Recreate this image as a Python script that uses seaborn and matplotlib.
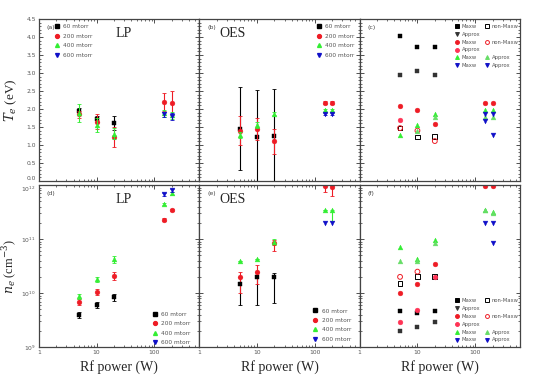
import numpy as np
import matplotlib
matplotlib.use("Agg")
import matplotlib.pyplot as plt
from matplotlib.lines import Line2D
from matplotlib.ticker import FixedLocator, LogLocator, MultipleLocator
import seaborn as sns

nan = np.nan

# Rf power (W)
power = [5, 10, 20, 150, 200]

# (a) Te from Langmuir probe (eV)
te_lp_60 = [1.95, 1.72, 1.61, nan, nan]
te_lp_60_err = [0.08, 0.08, 0.2, 0, 0]
te_lp_200 = [1.85, 1.65, 1.22, 2.2, 2.17]
te_lp_200_err = [0.1, 0.2, 0.28, 0.25, 0.33]
te_lp_400 = [1.9, 1.55, 1.31, 1.88, 1.82]
te_lp_400_err = [0.25, 0.2, 0.15, 0.1, 0.1]
te_lp_600 = [nan, nan, nan, 1.85, 1.8]
te_lp_600_err = [0, 0, 0, 0.08, 0.1]

# (b) Te from OES (eV)
te_oes_60 = [1.45, 1.22, 1.25, nan, nan]
te_oes_60_err = [1.15, 1.3, 1.3, 0, 0]
te_oes_200 = [1.4, 1.44, 1.1, 2.18, 2.18]
te_oes_200_err = [0.4, 0.3, 0.35, 0.04, 0.04]
te_oes_400 = [1.28, 1.56, 1.87, 1.96, 1.96]
te_oes_400_err = [0.08, 0.08, 0.05, 0.04, 0.04]
te_oes_600 = [nan, nan, nan, 1.87, 1.87]
te_oes_600_err = [0, 0, 0, 0.03, 0.03]

# (c) Te, Maxwellian / non-Maxwellian / approximation
te_60_maxw = [4.02, 3.72, 3.72, nan, nan]
te_60_nonmaxw = [1.47, 1.22, 1.24, nan, nan]
te_60_approx = [2.94, 3.05, 2.94, nan, nan]
te_200_maxw = [2.07, 1.98, 1.57, 2.18, 2.18]
te_200_nonmaxw = [1.47, 1.4, 1.11, nan, nan]
te_200_approx = [1.69, nan, nan, nan, nan]
te_400_maxw = [1.29, 1.56, 1.87, 1.96, 1.96]
te_400_approx = [nan, 1.4, 1.78, 1.78, 1.78]
te_600_maxw = [nan, nan, nan, 1.87, 1.87]
te_600_approx = [nan, nan, nan, 1.67, 1.29]

# (d) ne from Langmuir probe (cm^-3)
ne_lp_60 = [4e9, 6e9, 8.5e9, nan, nan]
ne_lp_200 = [7e9, 1.05e10, 2.1e10, 2.3e11, 3.5e11]
ne_lp_400 = [8.7e9, 1.8e10, 4.2e10, 4.5e11, 7e11]
ne_lp_600 = [nan, nan, nan, 6.7e11, 8e11]
ne_lp_rel_err = [0.12, 0.12, 0.15, 0.05, 0.05]

# (e) ne from OES (cm^-3), asymmetric errors
ne_oes_60 = [1.5e10, 2e10, 2e10, nan, nan]
ne_oes_60_lo = [9e9, 1.4e10, 1.35e10, 0, 0]
ne_oes_60_hi = [5e9, 5e9, 4e9, 0, 0]
ne_oes_200 = [2e10, 2.5e10, 8.6e10, 9.8e11, 9.3e11]
ne_oes_200_lo = [1e10, 1e10, 2.5e10, 2.5e11, 3e11]
ne_oes_200_hi = [5e9, 8e9, 1e10, 5e10, 5e10]
ne_oes_400 = [3.9e10, 4.3e10, 8.9e10, 3.4e11, 3.4e11]
ne_oes_400_lo = [0, 0, 1e10, 0, 1.2e11]
ne_oes_400_hi = [0, 0, 1e10, 0, 0]
ne_oes_600 = [nan, nan, nan, 2e11, 2e11]

# (f) ne, Maxwellian / non-Maxwellian / approximation
ne_60_maxw = [4.7e9, 4.3e9, 4.7e9, nan, nan]
ne_60_nonmaxw = [1.5e10, 2e10, 2e10, nan, nan]
ne_60_approx = [2e9, 2.4e9, 2.9e9, nan, nan]
ne_200_maxw = [1e10, 1.5e10, 3.4e10, 9.8e11, 9.5e11]
ne_200_nonmaxw = [2e10, 2.5e10, nan, nan, nan]
ne_200_approx = [2.9e9, 4.8e9, 2e10, nan, nan]
ne_400_maxw = [7e10, 4.3e10, 9.8e10, 3.4e11, 3.2e11]
ne_400_approx = [3.9e10, 3.9e10, 8.6e10, 3.4e11, 3e11]
ne_600_maxw = [nan, nan, nan, 2e11, 2e11]
ne_600_approx = [nan, nan, nan, nan, 8.4e10]

pressure_labels = ["60 mtorr", "200 mtorr", "400 mtorr", "600 mtorr"]
BLACK, RED, GREEN, BLUE = "#000000", "#ee1c25", "#33ee33", "#1010c8"
COLORS = [BLACK, RED, GREEN, BLUE]
MARKERS = ["s", "o", "^", "v"]

sns.set_style("ticks")
plt.rcParams["font.family"] = ["DejaVu Sans"]
plt.rcParams["mathtext.fontset"] = "dejavuserif"

fig, axes = plt.subplots(2, 3, figsize=(5.39, 3.79), dpi=100)
fig.subplots_adjust(left=0.072, right=0.965, top=0.95, bottom=0.084,
                    wspace=0.0, hspace=0.025)


def points(ax, y, color, marker, open_=False, size=12):
    if open_:
        sns.scatterplot(x=power, y=y, ax=ax, marker=marker, s=size,
                        facecolor="none", edgecolor=color, linewidth=0.7)
    else:
        sns.scatterplot(x=power, y=y, ax=ax, marker=marker, s=size,
                        color=color, edgecolor=color, linewidth=0.3)


def errs(ax, y, err, color):
    ax.errorbar(power, y, yerr=err, fmt="none", ecolor=color,
                elinewidth=0.8, capsize=1.2, capthick=0.6, zorder=1)


def style_axis(ax, log_y):
    ax.set_xscale("log")
    ax.set_xlim(1, 600)
    if log_y:
        ax.set_yscale("log")
        ax.set_ylim(1e9, 1e12)
        ax.yaxis.set_major_locator(LogLocator(base=10, numticks=10))
        ax.yaxis.set_minor_locator(LogLocator(base=10, subs=np.arange(2, 10) * 1.0, numticks=10))
    else:
        ax.set_ylim(0, 4.5)
        ax.yaxis.set_major_locator(MultipleLocator(0.5))
        ax.yaxis.set_minor_locator(MultipleLocator(0.1))
        ax.yaxis.set_major_formatter(plt.FormatStrFormatter("%.1f"))
    ax.xaxis.set_major_locator(FixedLocator([1, 10, 100, 1000]))
    ax.xaxis.set_major_formatter(plt.FuncFormatter(lambda v, p: f"{v:g}"))
    ax.xaxis.set_minor_locator(LogLocator(base=10, subs=np.arange(2, 10) * 1.0, numticks=10))
    ax.tick_params(which="both", direction="in", top=True, right=True,
                   labelsize=4.3, labelcolor="#555555", color="#333333", pad=2)
    ax.tick_params(which="major", length=3, width=0.6)
    ax.tick_params(which="minor", length=1.6, width=0.5)
    for sp in ax.spines.values():
        sp.set_linewidth(0.9)
        sp.set_color("#444444")


def pressure_legend(ax, **kw):
    handles = [Line2D([], [], ls="none", marker=m, color=c, markersize=2.8)
               for m, c in zip(MARKERS, COLORS)]
    ax.legend(handles, pressure_labels, frameon=False, fontsize=4.2,
              labelcolor="#555555", handletextpad=0.6, labelspacing=0.75,
              handlelength=1.0, **kw)


def model_legend(ax, **kw):
    def h(m, c, open_=False):
        return Line2D([], [], ls="none", marker=m, color=c, markersize=2.8,
                      markerfacecolor="none" if open_ else c, markeredgewidth=0.7)
    blank = Line2D([], [], ls="none")
    handles = [h("s", BLACK), h("v", "#333333"), h("o", RED), h("o", "#ff3355"),
               h("^", GREEN), h("v", BLUE),
               h("s", BLACK, True), blank, h("o", RED, True), blank,
               h("^", "#66dd66"), h("v", BLUE)]
    labels = ["Maxw", "Approx", "Maxw", "Approx", "Maxw", "Maxw",
              "non-Maxw", "", "non-Maxw", "", "Approx", "Approx"]
    ax.legend(handles, labels, ncol=2, frameon=False, fontsize=3.8,
              labelcolor="#555555", handletextpad=0.4, labelspacing=0.55,
              handlelength=1.0, columnspacing=0.8, **kw)


# ---- (a) LP Te
ax = axes[0, 0]
for y, e, c, m in zip([te_lp_60, te_lp_200, te_lp_400, te_lp_600],
                      [te_lp_60_err, te_lp_200_err, te_lp_400_err, te_lp_600_err],
                      COLORS, MARKERS):
    errs(ax, y, e, c)
    points(ax, y, c, m)
pressure_legend(ax, loc="upper left", bbox_to_anchor=(0.06, 1.0))

# ---- (b) OES Te
ax = axes[0, 1]
for y, e, c, m in zip([te_oes_60, te_oes_200, te_oes_400, te_oes_600],
                      [te_oes_60_err, te_oes_200_err, te_oes_400_err, te_oes_600_err],
                      COLORS, MARKERS):
    errs(ax, y, e, c)
    points(ax, y, c, m)
pressure_legend(ax, loc="upper right", bbox_to_anchor=(1.0, 1.0))

# ---- (c) Te by EEDF model
ax = axes[0, 2]
points(ax, te_60_maxw, BLACK, "s")
points(ax, te_60_approx, "#333333", "s")
points(ax, te_60_nonmaxw, BLACK, "s", open_=True)
points(ax, te_200_maxw, RED, "o")
points(ax, te_200_approx, "#ff3355", "o")
points(ax, te_200_nonmaxw, RED, "o", open_=True)
points(ax, te_400_maxw, GREEN, "^")
points(ax, te_400_approx, "#66dd66", "^")
points(ax, te_600_maxw, BLUE, "v")
points(ax, te_600_approx, BLUE, "v")
model_legend(ax, loc="upper right", bbox_to_anchor=(1.02, 1.0))

# ---- (d) LP ne
ax = axes[1, 0]
for y, c, m in zip([ne_lp_60, ne_lp_200, ne_lp_400, ne_lp_600], COLORS, MARKERS):
    errs(ax, y, np.array(y) * np.array(ne_lp_rel_err), c)
    points(ax, y, c, m)
pressure_legend(ax, loc="lower right", bbox_to_anchor=(0.98, -0.02))

# ---- (e) OES ne
ax = axes[1, 1]
for y, lo, hi, c in zip([ne_oes_60, ne_oes_200, ne_oes_400],
                        [ne_oes_60_lo, ne_oes_200_lo, ne_oes_400_lo],
                        [ne_oes_60_hi, ne_oes_200_hi, ne_oes_400_hi],
                        COLORS):
    errs(ax, y, [lo, hi], c)
for y, c, m in zip([ne_oes_60, ne_oes_200, ne_oes_400, ne_oes_600], COLORS, MARKERS):
    points(ax, y, c, m)
pressure_legend(ax, loc="lower right", bbox_to_anchor=(0.98, 0.0))

# ---- (f) ne by EEDF model
ax = axes[1, 2]
points(ax, ne_60_maxw, BLACK, "s")
points(ax, ne_60_approx, "#333333", "s")
points(ax, ne_60_nonmaxw, BLACK, "s", open_=True)
points(ax, ne_200_maxw, RED, "o")
points(ax, ne_200_approx, "#ff3355", "o")
points(ax, ne_200_nonmaxw, RED, "o", open_=True)
points(ax, ne_400_maxw, GREEN, "^")
points(ax, ne_400_approx, "#66dd66", "^")
points(ax, ne_600_maxw, BLUE, "v")
points(ax, ne_600_approx, BLUE, "v")
model_legend(ax, loc="lower right", bbox_to_anchor=(1.02, 0.0))

for i in range(2):
    for j in range(3):
        ax = axes[i, j]
        style_axis(ax, log_y=(i == 1))
        if j > 0:
            ax.tick_params(labelleft=False)
        if i == 0:
            ax.tick_params(labelbottom=False)
        ax.set_xlabel("")
        ax.set_ylabel("")

panel_tags = ["(a)", "(b)", "(c)", "(d)", "(e)", "(f)"]
for ax, tag in zip(axes.flat, panel_tags):
    ax.text(0.05, 0.95, tag, transform=ax.transAxes, fontsize=4.5,
            color="#444444", va="center", ha="left")

serif = ["Liberation Serif", "DejaVu Serif"]
for ax, name, xpos in [(axes[0, 0], "LP", 0.53), (axes[0, 1], "OES", 0.21),
                       (axes[1, 0], "LP", 0.53), (axes[1, 1], "OES", 0.21)]:
    ax.text(xpos, 0.91, name, transform=ax.transAxes, fontsize=10,
            family=serif, ha="center", va="center")

for ax in axes[1]:
    ax.set_xlabel("Rf power (W)", family=serif, fontsize=10, labelpad=4)

axes[0, 0].set_ylabel(r"$T_e$ (eV)", family=serif, fontsize=9.5, labelpad=5)
axes[1, 0].set_ylabel(r"$n_e$ (cm$^{-3}$)", family=serif, fontsize=9, labelpad=2)

# keep the two stacked end labels (0.0 and 10^12) apart
fig.canvas.draw()
for lab in axes[0, 0].get_yticklabels():
    if lab.get_text() == "0.0":
        lab.set_va("bottom")
top_lab = axes[1, 0].get_yticklabels()[-1]
for lab in axes[1, 0].get_yticklabels():
    if "12" in lab.get_text():
        lab.set_va("top")

plt.savefig("out.png", dpi=100)
plt.close()
